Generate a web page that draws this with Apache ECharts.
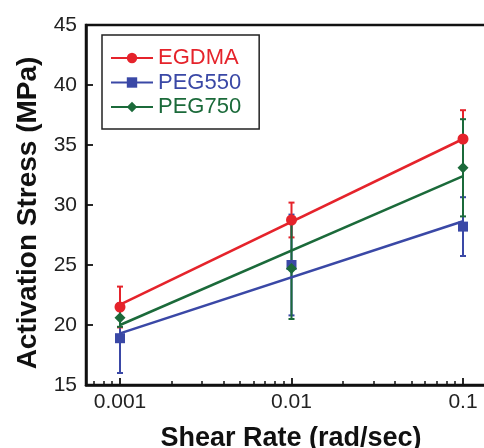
<!DOCTYPE html>
<html><head><meta charset="utf-8">
<script src="https://cdn.jsdelivr.net/npm/echarts@6/dist/echarts.min.js"></script>
<style>html,body{margin:0;padding:0;background:#fff}#c{width:484px;height:448px}</style>
</head><body><div id="c"></div>
<script>
const shearRates = [0.001, 0.01, 0.1];
const xTickLabels = ['0.001', '0.01', '0.1'];
const xMinorTicks = [0.0007, 0.0008, 0.0009, 0.002, 0.003, 0.004, 0.005, 0.006, 0.007, 0.008, 0.009,
  0.02, 0.03, 0.04, 0.05, 0.06, 0.07, 0.08, 0.09];
const seriesNames = ['EGDMA', 'PEG550', 'PEG750'];
const egdmaMean = [21.5, 28.75, 35.5];
const egdmaErr = [1.7, 1.45, 2.4];
const peg550Mean = [18.9, 25.0, 28.2];
const peg550Err = [2.9, 4.2, 2.45];
const peg750Mean = [20.6, 24.7, 33.1];
const peg750Err = [0.75, 4.2, 4.05];
const fitX = [0.001, 0.1];
const egdmaFit = [21.7, 35.5];
const peg550Fit = [19.3, 28.65];
const peg750Fit = [20.0, 32.4];

const colors = ['#e5232b', '#3a48a6', '#1b6a3a'];
const symbols = ['circle', 'rect', 'diamond'];
const symbolSizes = [11, 10, 11];
const means = [egdmaMean, peg550Mean, peg750Mean];
const errs = [egdmaErr, peg550Err, peg750Err];
const fits = [egdmaFit, peg550Fit, peg750Fit];

const FONT = 'Liberation Sans';
const xMin = Math.pow(10, -3 - 34 / 171.5);
const xMax = Math.pow(10, -3 - 34 / 171.5 + 410 / 171.5);

function fmtX(v) {
  const i = shearRates.findIndex(s => Math.abs(Math.log10(s) - Math.log10(v)) < 0.01);
  return i >= 0 ? xTickLabels[i] : '';
}

const series = [];
// error bars (order: blue, red, green)
[1, 0, 2].forEach(k => {
  series.push({
    type: 'custom', name: seriesNames[k] + '_err', z: 2,
    data: shearRates.map((x, i) => [x, means[k][i] - errs[k][i], means[k][i] + errs[k][i]]),
    renderItem: function (params, api) {
      const lo = api.coord([api.value(0), api.value(1)]);
      const hi = api.coord([api.value(0), api.value(2)]);
      const w = 3;
      const st = { stroke: colors[k], lineWidth: 2 };
      return { type: 'group', children: [
        { type: 'line', shape: { x1: lo[0], y1: lo[1], x2: hi[0], y2: hi[1] }, style: st },
        { type: 'line', shape: { x1: lo[0] - w, y1: lo[1], x2: lo[0] + w, y2: lo[1] }, style: st },
        { type: 'line', shape: { x1: hi[0] - w, y1: hi[1], x2: hi[0] + w, y2: hi[1] }, style: st }
      ] };
    }
  });
});
// fit lines
[0, 1, 2].forEach(k => {
  series.push({
    type: 'line', name: seriesNames[k], z: 3,
    data: fitX.map((x, i) => [x, fits[k][i]]),
    symbol: symbols[k], showSymbol: false, symbolSize: symbolSizes[k],
    lineStyle: { color: colors[k], width: 2.5 },
    itemStyle: { color: colors[k] },
    silent: true
  });
});
// markers (order: blue, green, red)
[1, 2, 0].forEach(k => {
  series.push({
    type: 'scatter', name: seriesNames[k] + '_pts', z: 4,
    data: shearRates.map((x, i) => [x, means[k][i]]),
    symbol: symbols[k], symbolSize: symbolSizes[k],
    itemStyle: { color: colors[k], opacity: 1 }
  });
});

const chart = echarts.init(document.getElementById('c'), null, { renderer: 'canvas' });
chart.setOption({
  animation: false,
  backgroundColor: '#fff',
  grid: { left: 86, top: 25, width: 410, height: 360, show: true, borderColor: '#111', borderWidth: 2.5,
    backgroundColor: 'transparent', containLabel: false, outerBoundsMode: 'none' },
  legend: {
    data: seriesNames.map((n, k) => ({ name: n, textStyle: { color: colors[k] } })),
    orient: 'vertical', left: 102, top: 35,
    itemWidth: 42, itemHeight: 13, itemGap: 2.5,
    padding: [12, 18, 11, 8],
    borderColor: '#222', borderWidth: 1.5,
    textStyle: { fontSize: 22, fontFamily: FONT },
    selectedMode: false
  },
  xAxis: [
    {
      type: 'log', logBase: 10, min: xMin, max: xMax,
      name: 'Shear Rate (rad/sec)', nameLocation: 'middle', nameGap: 40,
      nameTextStyle: { fontSize: 27, fontWeight: 'bold', color: '#111', fontFamily: FONT },
      axisLine: { show: true, onZero: false, lineStyle: { color: '#111', width: 2.5 } },
      axisTick: { show: true, inside: true, length: 7, customValues: shearRates, lineStyle: { color: '#111', width: 1.8 } },
      axisLabel: { show: true, customValues: shearRates, formatter: fmtX, fontSize: 21, color: '#222', margin: 7, fontFamily: FONT },
      splitLine: { show: false }, minorTick: { show: false }, minorSplitLine: { show: false }
    },
    {
      type: 'log', logBase: 10, min: xMin, max: xMax, position: 'bottom',
      axisLine: { show: false },
      axisTick: { show: true, inside: true, length: 4, customValues: xMinorTicks, lineStyle: { color: '#111', width: 1.5 } },
      axisLabel: { show: false },
      splitLine: { show: false }
    }
  ],
  yAxis: {
    type: 'value', min: 15, max: 45, interval: 5,
    name: 'Activation Stress (MPa)', nameLocation: 'middle', nameGap: 43, nameRotate: 90,
    nameTextStyle: { fontSize: 28, fontWeight: 'bold', color: '#111', fontFamily: FONT, padding: [0, 16, 0, 0] },
    axisLine: { show: true, lineStyle: { color: '#111', width: 2.5 } },
    axisTick: { show: true, inside: true, length: 7, lineStyle: { color: '#111', width: 1.8 } },
    axisLabel: { fontSize: 21, color: '#222', margin: 9, fontFamily: FONT },
    splitLine: { show: false }
  },
  series: series
});
</script>
</body></html>
